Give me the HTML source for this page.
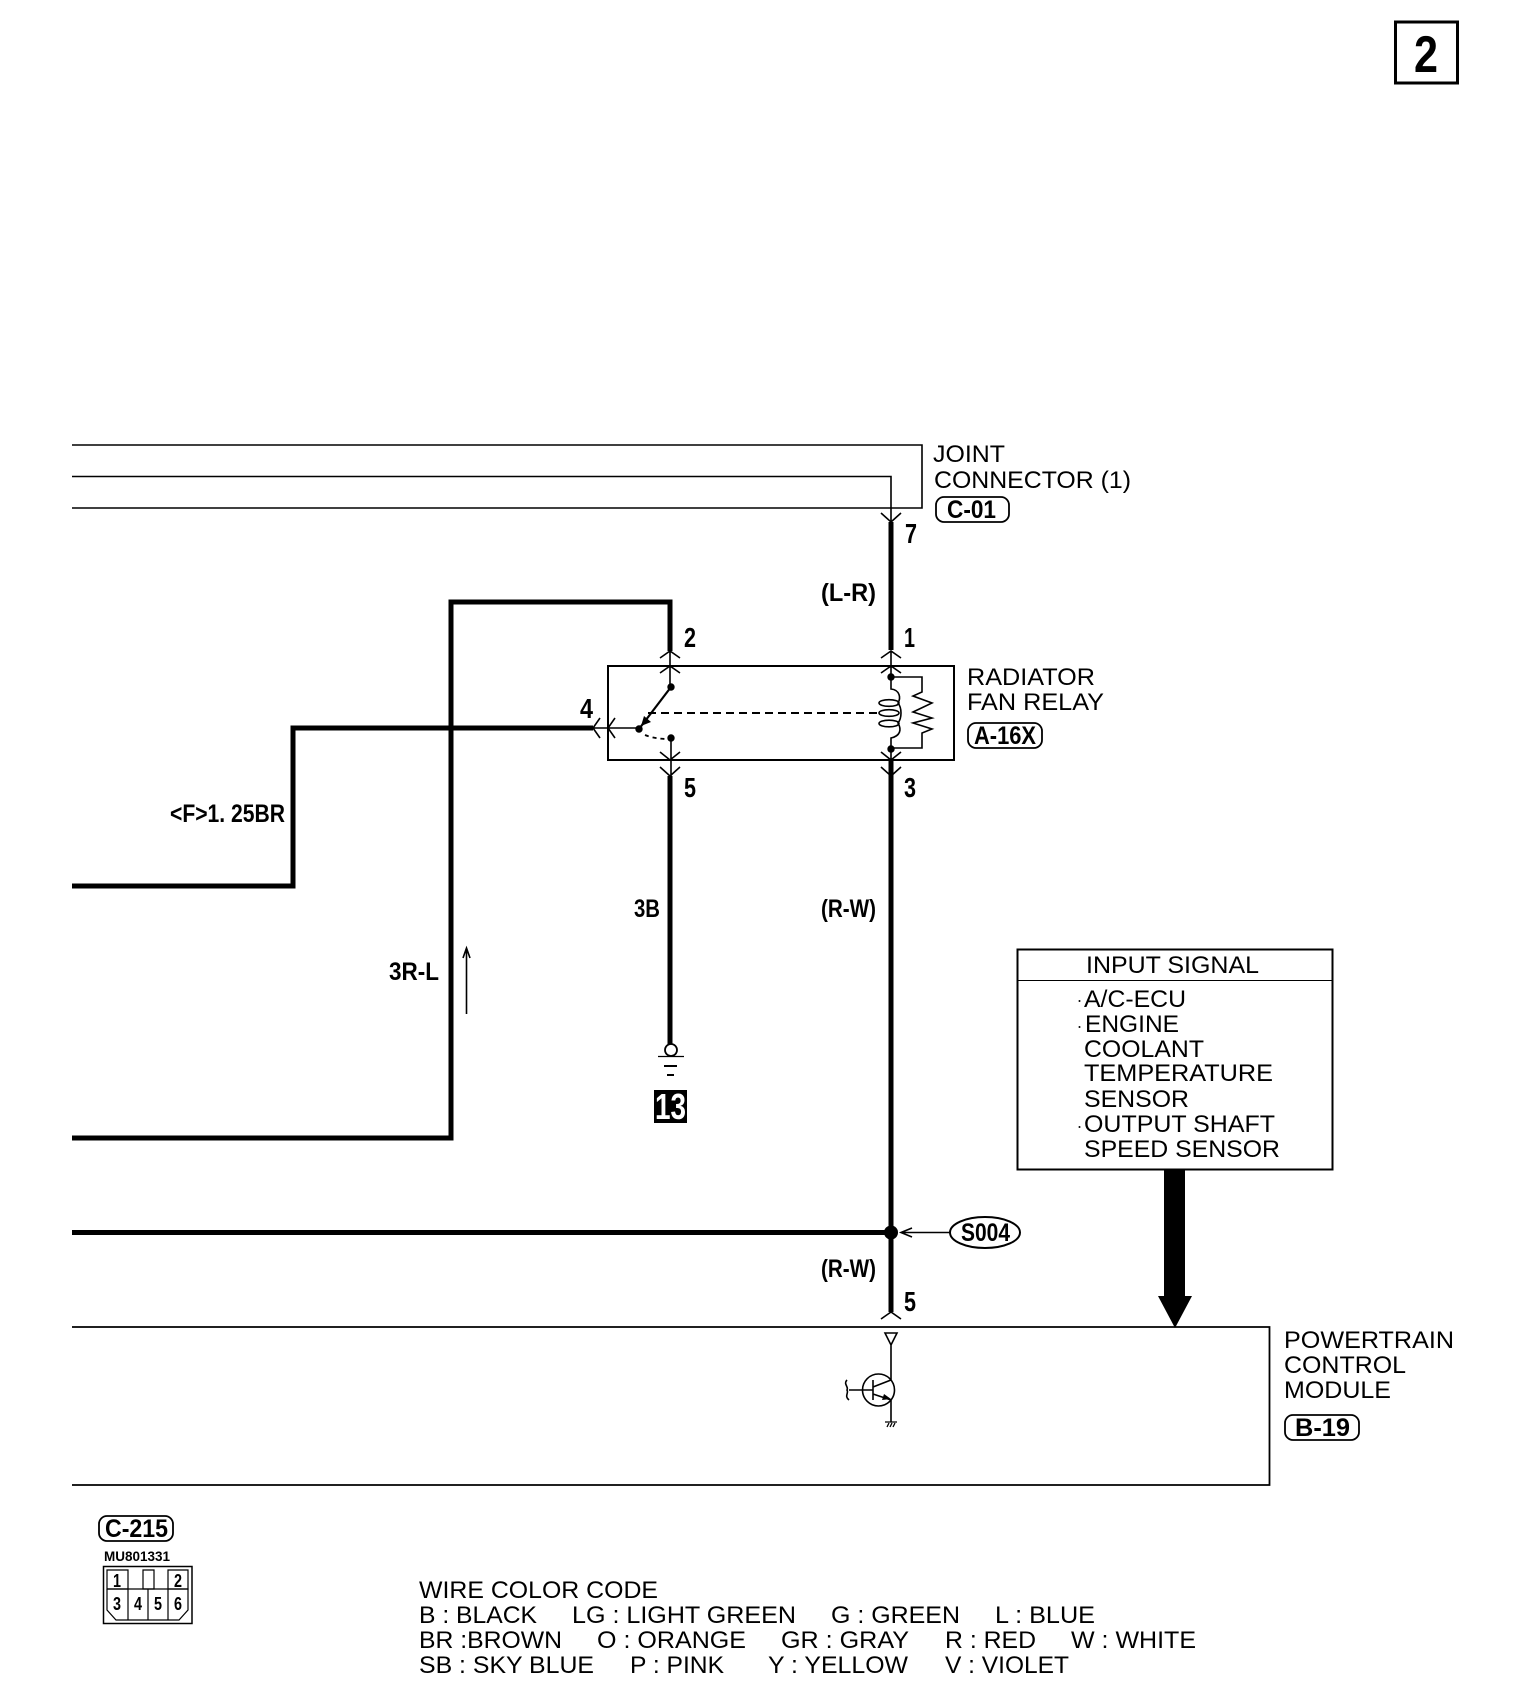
<!DOCTYPE html>
<html><head><meta charset="utf-8"><style>
html,body{margin:0;padding:0;background:#fff}
svg{display:block}
text{font-family:"Liberation Sans",sans-serif;font-size:24px;fill:#000;white-space:pre}
.b{font-weight:bold;font-size:25px}
.d{font-weight:bold;font-size:28px}
.t{stroke:#000;stroke-width:1.6;fill:none}
.w{stroke:#000;stroke-width:5;fill:none}
</style></head><body>
<svg width="1520" height="1704" viewBox="0 0 1520 1704" xmlns="http://www.w3.org/2000/svg">
<rect width="1520" height="1704" fill="#fff"/>
<!-- page number -->
<rect x="1395.500" y="22" width="62" height="61" fill="none" stroke="#000" stroke-width="3"/>
<text x="1414" y="72" style="font-size:52px;font-weight:bold" textLength="24" lengthAdjust="spacingAndGlyphs">2</text>

<!-- joint connector lines -->
<path class="t" d="M72 445H922V508H72M72 476.500H891V522"/>
<path class="t" d="M881 513L891 522L901 513"/>
<path class="w" d="M891 522V650"/>
<text x="933" y="462" textLength="72" lengthAdjust="spacingAndGlyphs">JOINT</text>
<text x="934" y="488" textLength="197" lengthAdjust="spacingAndGlyphs">CONNECTOR (1)</text>
<rect x="936" y="497" width="73" height="25" rx="8" fill="none" stroke="#000" stroke-width="1.800"/>
<text class="b" x="947" y="518" textLength="49" lengthAdjust="spacingAndGlyphs">C-01</text>
<text class="d" x="905" y="543" textLength="12" lengthAdjust="spacingAndGlyphs">7</text>
<text class="b" x="821" y="601" textLength="55" lengthAdjust="spacingAndGlyphs">(L-R)</text>

<!-- thick wires -->
<path class="w" d="M72 1138H451V602H670V651"/>
<path class="w" d="M72 886H293V728H593"/>
<path class="w" d="M670 776V1045"/>
<path class="w" d="M891 760V1312"/>
<path class="w" d="M72 1232.500H891"/>
<circle cx="891" cy="1232.500" r="7"/>

<!-- relay -->
<rect x="608" y="666" width="346" height="94" fill="none" stroke="#000" stroke-width="2"/>
<text x="967" y="685" textLength="128" lengthAdjust="spacingAndGlyphs">RADIATOR</text>
<text x="967" y="710" textLength="137" lengthAdjust="spacingAndGlyphs">FAN RELAY</text>
<rect x="968" y="723" width="74" height="25" rx="8" fill="none" stroke="#000" stroke-width="1.800"/>
<text class="b" x="974" y="744" textLength="62" lengthAdjust="spacingAndGlyphs">A-16X</text>
<text class="d" x="684" y="647" textLength="12" lengthAdjust="spacingAndGlyphs">2</text>
<text class="d" x="904" y="647" textLength="11" lengthAdjust="spacingAndGlyphs">1</text>
<text class="d" x="580" y="718" textLength="13" lengthAdjust="spacingAndGlyphs">4</text>
<text class="d" x="684" y="797" textLength="12" lengthAdjust="spacingAndGlyphs">5</text>
<text class="d" x="904" y="797" textLength="12" lengthAdjust="spacingAndGlyphs">3</text>
<!-- chevrons -->
<path class="t" d="M660 658L670 651L680 658M660 673L670 666L680 673M670 651V687"/>
<path class="t" d="M881 658L891 651L901 658M881 673L891 666L901 673M891 651V677"/>
<path class="t" d="M660 752L670 760L680 752M660 767L670 776L680 767M671 738V776"/>
<path class="t" d="M881 752L891 760L901 752M881 767L891 776L901 767M891 749V776"/>
<path class="t" d="M600 718L593 728L600 738M615 718L608 728L615 738M593 728H639"/>
<!-- switch -->
<circle cx="671" cy="687" r="3.700"/>
<circle cx="639" cy="729" r="3.700"/>
<circle cx="671" cy="738" r="3.700"/>
<path d="M671 687L639 729" stroke="#000" stroke-width="2.200"/>
<path d="M641 726L644 716L651 722Z"/>
<path d="M648 713H880" stroke="#000" stroke-width="2" stroke-dasharray="8 5" fill="none"/>
<path d="M645 735Q655 739 668 739" stroke="#000" stroke-width="1.800" stroke-dasharray="4 4" fill="none"/>
<!-- coil -->
<circle cx="891" cy="677" r="3.700"/>
<circle cx="891" cy="749" r="3.700"/>
<path class="t" d="M891 677V689C900 690 901 698 898 703C902 708 902 718 898 723C902 730 900 736 891 738V749" stroke-width="1.500"/>
<ellipse cx="889" cy="703" rx="10" ry="3.300" class="t"/>
<ellipse cx="889" cy="713" rx="10" ry="3.300" class="t"/>
<ellipse cx="889" cy="723.500" rx="10" ry="3.300" class="t"/>
<path class="t" d="M891 677H922V692L913 696L932 703L913 712L932 718L913 723L932 729L922 733V748H891"/>

<!-- pin 5 labels -->
<text class="b" x="170" y="822" textLength="115" lengthAdjust="spacingAndGlyphs">&lt;F&gt;1. 25BR</text>
<text class="b" x="389" y="980" textLength="50" lengthAdjust="spacingAndGlyphs">3R-L</text>
<text class="b" x="634" y="917" textLength="26" lengthAdjust="spacingAndGlyphs">3B</text>
<text class="b" x="821" y="917" textLength="55" lengthAdjust="spacingAndGlyphs">(R-W)</text>
<path class="t" d="M466.500 1014V949M463 958L466.500 948L470 958"/>

<!-- ground -->
<circle cx="671" cy="1050" r="6" fill="#fff" stroke="#000" stroke-width="1.800"/>
<path d="M658 1056.500H684" stroke="#000" stroke-width="1.200"/>
<path d="M664 1066H677M667 1075H674" stroke="#000" stroke-width="2"/>
<rect x="654" y="1090" width="33" height="33"/>
<text x="655" y="1119" style="font-size:36px;font-weight:bold;fill:#fff" textLength="31" lengthAdjust="spacingAndGlyphs">13</text>

<!-- input signal -->
<rect x="1017.500" y="949.500" width="315" height="220" fill="none" stroke="#000" stroke-width="2"/>
<path d="M1017 980.500H1332" stroke="#000" stroke-width="1"/>
<text x="1086" y="973" textLength="173" lengthAdjust="spacingAndGlyphs">INPUT SIGNAL</text>
<circle cx="1079.500" cy="1001" r="1"/><circle cx="1079.500" cy="1027" r="1"/><circle cx="1079.500" cy="1127" r="1"/>
<text x="1084" y="1007" textLength="102" lengthAdjust="spacingAndGlyphs">A/C-ECU</text>
<text x="1085" y="1032" textLength="94" lengthAdjust="spacingAndGlyphs">ENGINE</text>
<text x="1084" y="1057" textLength="120" lengthAdjust="spacingAndGlyphs">COOLANT</text>
<text x="1084" y="1081" textLength="189" lengthAdjust="spacingAndGlyphs">TEMPERATURE</text>
<text x="1084" y="1107" textLength="105" lengthAdjust="spacingAndGlyphs">SENSOR</text>
<text x="1084" y="1132" textLength="191" lengthAdjust="spacingAndGlyphs">OUTPUT SHAFT</text>
<text x="1084" y="1157" textLength="196" lengthAdjust="spacingAndGlyphs">SPEED SENSOR</text>
<path d="M1164 1170H1185V1296H1192L1175 1328L1158 1296H1164Z"/>

<!-- splice -->
<path class="t" d="M901 1232.500H950M912 1228L901 1232.500L912 1237"/>
<ellipse cx="985" cy="1232.500" rx="35" ry="15.500" fill="none" stroke="#000" stroke-width="2"/>
<text class="b" x="961" y="1241" textLength="49" lengthAdjust="spacingAndGlyphs">S004</text>
<text class="b" x="821" y="1277" textLength="55" lengthAdjust="spacingAndGlyphs">(R-W)</text>
<text class="d" x="904" y="1311" textLength="12" lengthAdjust="spacingAndGlyphs">5</text>
<path class="t" d="M881 1319L891 1312L901 1319"/>

<!-- module -->
<path d="M72 1327H1269.500V1485H72" fill="none" stroke="#000" stroke-width="1.800"/>
<text x="1284" y="1348" textLength="170" lengthAdjust="spacingAndGlyphs">POWERTRAIN</text>
<text x="1284" y="1373" textLength="122" lengthAdjust="spacingAndGlyphs">CONTROL</text>
<text x="1284" y="1398" textLength="107" lengthAdjust="spacingAndGlyphs">MODULE</text>
<rect x="1285" y="1415" width="74" height="25" rx="8" fill="none" stroke="#000" stroke-width="1.800"/>
<text class="b" x="1295" y="1436" textLength="55" lengthAdjust="spacingAndGlyphs">B-19</text>
<!-- transistor -->
<path class="t" d="M885 1333H897L891 1345ZM891 1345V1380L873 1387M873 1380V1400M873 1394L891 1400V1422M849 1390H873M847 1380C843 1384 849 1387 847 1390C849 1393 844 1396 849 1400"/>
<path d="M884 1394L891 1399L882 1400Z"/>
<circle cx="878.500" cy="1390" r="16" class="t"/>
<path d="M885 1422H897M887 1427L889 1423M890 1427L892 1423M893 1427L895 1423" stroke="#000" stroke-width="1.300"/>

<!-- connector c-215 -->
<rect x="99" y="1516" width="74" height="25" rx="8" fill="none" stroke="#000" stroke-width="1.800"/>
<text class="b" x="105" y="1537" textLength="63" lengthAdjust="spacingAndGlyphs">C-215</text>
<text x="104" y="1561" style="font-size:14px;font-weight:bold" textLength="66" lengthAdjust="spacingAndGlyphs">MU801331</text>
<rect x="103.500" y="1566.500" width="88.500" height="57" fill="none" stroke="#000" stroke-width="1.500"/>
<path d="M107 1570H128V1589H107ZM168 1570H188V1589H168ZM143 1570H154V1589H143Z" fill="none" stroke="#000" stroke-width="1.200"/>
<path d="M107 1589V1610L116 1620H179L188 1610V1589H107M128 1589V1620M148 1589V1620M168 1589V1620" fill="none" stroke="#000" stroke-width="1.200"/>
<g style="font-weight:bold">
<text x="113" y="1587" style="font-size:18px" textLength="8" lengthAdjust="spacingAndGlyphs">1</text>
<text x="174" y="1587" style="font-size:18px" textLength="8" lengthAdjust="spacingAndGlyphs">2</text>
<text x="113" y="1610" style="font-size:18px" textLength="8" lengthAdjust="spacingAndGlyphs">3</text>
<text x="134" y="1610" style="font-size:18px" textLength="8" lengthAdjust="spacingAndGlyphs">4</text>
<text x="154" y="1610" style="font-size:18px" textLength="8" lengthAdjust="spacingAndGlyphs">5</text>
<text x="174" y="1610" style="font-size:18px" textLength="8" lengthAdjust="spacingAndGlyphs">6</text>
</g>

<!-- wire colour code -->
<g transform="translate(-1,-1)">
<text x="420" y="1599" textLength="239" lengthAdjust="spacingAndGlyphs">WIRE COLOR CODE</text>
<text x="420" y="1624" textLength="118" lengthAdjust="spacingAndGlyphs">B : BLACK</text>
<text x="573" y="1624" textLength="224" lengthAdjust="spacingAndGlyphs">LG : LIGHT GREEN</text>
<text x="832" y="1624" textLength="129" lengthAdjust="spacingAndGlyphs">G : GREEN</text>
<text x="996" y="1624" textLength="100" lengthAdjust="spacingAndGlyphs">L : BLUE</text>
<text x="420" y="1649" textLength="143" lengthAdjust="spacingAndGlyphs">BR :BROWN</text>
<text x="598" y="1649" textLength="149" lengthAdjust="spacingAndGlyphs">O : ORANGE</text>
<text x="782" y="1649" textLength="128" lengthAdjust="spacingAndGlyphs">GR : GRAY</text>
<text x="946" y="1649" textLength="91" lengthAdjust="spacingAndGlyphs">R : RED</text>
<text x="1072" y="1649" textLength="125" lengthAdjust="spacingAndGlyphs">W : WHITE</text>
<text x="420" y="1674" textLength="175" lengthAdjust="spacingAndGlyphs">SB : SKY BLUE</text>
<text x="631" y="1674" textLength="94" lengthAdjust="spacingAndGlyphs">P : PINK</text>
<text x="769" y="1674" textLength="140" lengthAdjust="spacingAndGlyphs">Y : YELLOW</text>
<text x="946" y="1674" textLength="124" lengthAdjust="spacingAndGlyphs">V : VIOLET</text>
</g>
</svg>
</body></html>
